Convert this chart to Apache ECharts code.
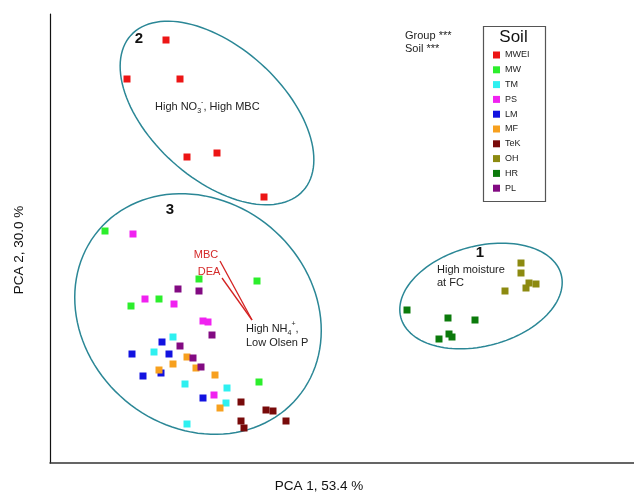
<!DOCTYPE html>
<html>
<head>
<meta charset="utf-8">
<script src="https://cdn.jsdelivr.net/npm/echarts@6/dist/echarts.min.js"></script>
<style>
html,body{margin:0;padding:0;background:#fff;}
#chart{width:634px;height:492px;}
</style>
</head>
<body>
<div id="chart"></div>
<script>
// ---- data (PCA score space, arbitrary units) ----
const soils = ['MWEI','MW','TM','PS','LM','MF','TeK','OH','HR','PL'];
const soilColors = ['#ec1515','#2cee2c','#2ef0f0','#f022f0','#1212e0','#f7a01e','#780a0a','#8c8a10','#0b7a0b','#820a82'];
const MWEI = [[116,423],[77,384],[130,384],[137,306],[167,310],[214,266]];
const MW   = [[55,232],[149,184],[207,182],[109,164],[81,157],[209,81]];
const TM   = [[123,126],[104,111],[135,79],[177,75],[176,60],[137,39]];
const PS   = [[83,229],[95,164],[124,159],[153,142],[158,141],[164,68]];
const LM   = [[112,121],[82,109],[119,109],[93,87],[111,90],[153,65]];
const MF   = [[137,106],[123,99],[146,95],[109,93],[165,88],[170,55]];
const TeK  = [[191,61],[216,53],[223,52],[191,42],[194,35],[236,42]];
const OH   = [[471,200],[471,190],[479,180],[486,179],[476,175],[455,172]];
const HR   = [[357,153],[398,145],[425,143],[399,129],[402,126],[389,124]];
const PL   = [[128,174],[149,172],[162,128],[130,117],[143,105],[151,96]];
const soilPoints = [MWEI, MW, TM, PS, LM, MF, TeK, OH, HR, PL];

// group ellipses: [centreX, centreY, semiMajor, semiMinor, angleDeg]
const groupEllipses = [
  [167, 350, 116, 66, -42],
  [148, 149, 130, 113, -40],
  [431, 167, 83, 50, 15]
];
// vectors: [x1, y1, x2, y2]
const vectorLines = [
  [170, 202, 202, 143],
  [172, 185, 202, 143]
];
// annotations
const annoText = ['2','3','1',
  'High NO{sub|3}{sup|-}, High MBC',
  'MBC','DEA',
  'High NH{sub|4}{sup|+},\nLow Olsen P',
  'High moisture\nat FC',
  'Group ***\nSoil ***'];
const annoPos = [[89,424],[120,253],[430,210],[105,356],[156,208],[159,191],[196,128],[387,187],[355,421]];
const annoKind = ['num','num','num','txt','red','red','txt','txt','txt'];

const FONT = "'Liberation Sans', Arial, sans-serif";

const chart = echarts.init(document.getElementById('chart'), null, {renderer:'canvas'});

const series = [];
series.push({
  type:'custom', name:'ellipses', silent:true, z:1,
  data: groupEllipses,
  renderItem: function(params, api){
    const cx = api.value(0), cy = api.value(1), a = api.value(2), b = api.value(3);
    const th = api.value(4) * Math.PI / 180;
    const pts = [];
    for (let i = 0; i < 120; i++){
      const t = i / 120 * Math.PI * 2;
      const x = cx + a*Math.cos(t)*Math.cos(th) - b*Math.sin(t)*Math.sin(th);
      const y = cy + a*Math.cos(t)*Math.sin(th) + b*Math.sin(t)*Math.cos(th);
      pts.push(api.coord([x, y]));
    }
    return {type:'polygon', shape:{points:pts}, style:{fill:'none', stroke:'#2b8796', lineWidth:1.5}};
  }
});
series.push({
  type:'custom', name:'vectors', silent:true, z:2,
  data: vectorLines,
  renderItem: function(params, api){
    const p1 = api.coord([api.value(0), api.value(1)]);
    const p2 = api.coord([api.value(2), api.value(3)]);
    return {type:'line', shape:{x1:p1[0],y1:p1[1],x2:p2[0],y2:p2[1]}, style:{stroke:'#d42222', lineWidth:1.3}};
  }
});
soils.forEach(function(name, i){
  series.push({
    type:'scatter', name:name, data:soilPoints[i], symbol:'rect', symbolSize:7,
    itemStyle:{color:soilColors[i], opacity:1}, z:3, silent:true
  });
});
series.push({
  type:'custom', name:'annotations', silent:true, z:4,
  data: annoPos,
  renderItem: function(params, api){
    const i = params.dataIndex;
    const p = api.coord([api.value(0), api.value(1)]);
    const kind = annoKind[i];
    const st = {
      text: annoText[i], fontFamily: FONT, align: kind==='num'||kind==='red' ? 'center' : 'left',
      verticalAlign:'middle'
    };
    if (kind === 'num'){ st.fontSize = 15; st.fontWeight = 'bold'; st.fill = '#111'; }
    else if (kind === 'red'){ st.fontSize = 11; st.fill = '#d42a2a'; }
    else {
      st.fontSize = 11; st.fill = '#222'; st.lineHeight = 13;
      st.rich = {
        sub:{fontSize:7, verticalAlign:'bottom', lineHeight:11, fill:'#222', fontFamily:FONT},
        sup:{fontSize:7, verticalAlign:'top', lineHeight:16, fill:'#222', fontFamily:FONT}
      };
    }
    return {type:'text', x:p[0], y:p[1], style:st};
  }
});

const option = {
  animation:false,
  backgroundColor:'#fff',
  grid:{left:50, top:14, right:0, bottom:29, containLabel:false},
  xAxis:{type:'value', min:0, max:584, axisLine:{show:true, onZero:false, lineStyle:{color:'#333', width:1.5}},
    axisTick:{show:false}, axisLabel:{show:false}, splitLine:{show:false}},
  yAxis:{type:'value', min:0, max:449, axisLine:{show:true, onZero:false, lineStyle:{color:'#111', width:1.2}},
    axisTick:{show:false}, axisLabel:{show:false}, splitLine:{show:false}},
  legend:{
    data: soils.map(function(n){return {name:n, icon:'rect'};}),
    orient:'vertical', left:493, top:50, padding:0,
    itemWidth:7, itemHeight:7, itemGap:4.8, selectedMode:false,
    textStyle:{fontSize:9, lineHeight:10, color:'#222', fontFamily:FONT, padding:[0,0,0,0]}
  },
  graphic:[
    {type:'rect', left:481, top:24, shape:{width:62, height:175}, style:{fill:'none', stroke:'#555', lineWidth:1.2}, z:10},
    {type:'text', x:513.5, y:37, style:{text:'Soil', fontSize:17, fontFamily:FONT, fill:'#111', align:'center', verticalAlign:'middle'}, z:10},
    {type:'text', x:319, y:486, style:{text:'PCA 1, 53.4 %', fontSize:13.5, fontFamily:FONT, fill:'#111', align:'center', verticalAlign:'middle'}},
    {type:'text', x:19, y:250, rotation:Math.PI/2, style:{text:'PCA 2, 30.0 %', fontSize:13.5, fontFamily:FONT, fill:'#111', align:'center', verticalAlign:'middle'}}
  ],
  series: series
};
chart.setOption(option);
</script>
</body>
</html>
